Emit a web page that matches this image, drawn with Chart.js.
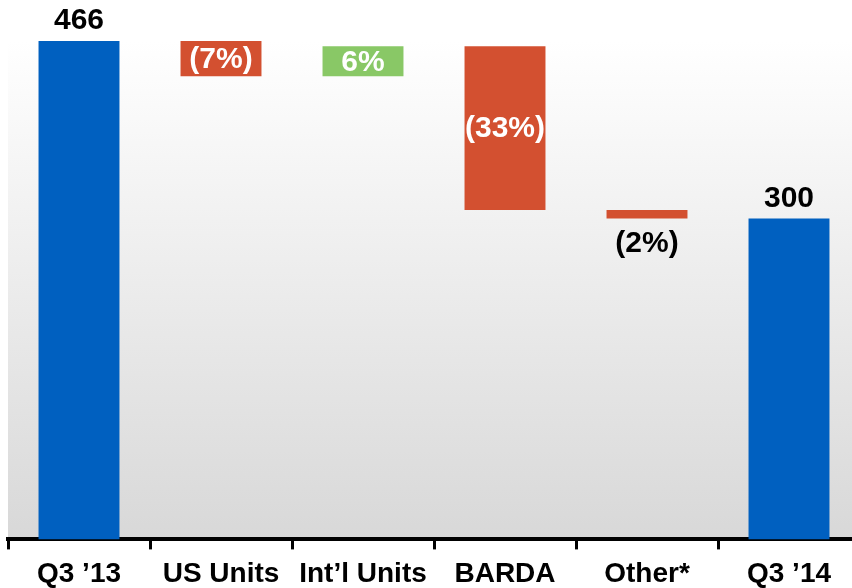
<!DOCTYPE html>
<html>
<head>
<meta charset="utf-8">
<script src="https://cdn.jsdelivr.net/npm/chart.js@4.4.0/dist/chart.umd.min.js"></script>
<style>
  html, body { margin: 0; padding: 0; background: #fff; overflow: hidden; }
  #wrap { width: 860px; height: 588px; }
</style>
</head>
<body>
<div id="wrap"><canvas id="chart"></canvas></div>
<script>
const categories = ['Q3 \u201913', 'US Units', 'Int\u2019l Units', 'BARDA', 'Other*', 'Q3 \u201914'];
// floating bar ranges (units)
const barLow = [0, 433, 433, 308, 300, 0];
const barHigh = [466, 466, 461, 461, 308, 300];
const barLabels = ['466', '(7%)', '6%', '(33%)', '(2%)', '300'];
// where each label sits: above the bar, inside it, or below it
const labelPlace = ['above', 'inside', 'inside', 'inside', 'below', 'above'];

const BLUE = '#0060c0';
const RED = '#d35030';
const GREEN = '#89c866';
const barColors = [BLUE, RED, GREEN, RED, RED, BLUE];

const FONT = "'Liberation Sans', Arial, sans-serif";

const panelBackground = {
  id: 'panelBackground',
  beforeDraw(chart) {
    const { ctx, chartArea } = chart;
    const g = ctx.createLinearGradient(0, chartArea.top, 0, chartArea.bottom);
    g.addColorStop(0, '#ffffff');
    g.addColorStop(1, '#d8d8d8');
    ctx.save();
    ctx.fillStyle = g;
    ctx.fillRect(chartArea.left, chartArea.top, chartArea.right - chartArea.left, chartArea.bottom - chartArea.top);
    ctx.restore();
  },
};

const barText = {
  id: 'barText',
  afterDatasetsDraw(chart) {
    const { ctx } = chart;
    const meta = chart.getDatasetMeta(0);
    ctx.save();
    ctx.font = `bold 30px ${FONT}`;
    ctx.textAlign = 'center';
    meta.data.forEach((bar, i) => {
      const top = Math.min(bar.y, bar.base);
      const bottom = Math.max(bar.y, bar.base);
      let y;
      if (labelPlace[i] === 'above') {
        ctx.fillStyle = '#000';
        ctx.textBaseline = 'bottom';
        y = top - 5;
      } else if (labelPlace[i] === 'below') {
        ctx.fillStyle = '#000';
        ctx.textBaseline = 'top';
        y = bottom + 10;
      } else {
        ctx.fillStyle = '#fff';
        ctx.textBaseline = 'middle';
        y = (top + bottom) / 2 + 1;
      }
      ctx.fillText(barLabels[i], bar.x, y);
    });
    ctx.restore();
  },
};

new Chart(document.getElementById('chart'), {
  type: 'bar',
  data: {
    labels: categories,
    datasets: [{
      data: barLow.map((lo, i) => [lo, barHigh[i]]),
      backgroundColor: barColors,
      borderWidth: 0,
      categoryPercentage: 1,
      barPercentage: 0.57,
    }],
  },
  options: {
    responsive: true,
    maintainAspectRatio: false,
    animation: false,
    layout: { padding: { top: 41, left: 8, right: 0, bottom: -11 } },
    plugins: {
      legend: { display: false },
      tooltip: { enabled: false },
    },
    scales: {
      x: {
        grid: {
          offset: true,
          drawOnChartArea: false,
          drawTicks: true,
          tickLength: 10,
          tickWidth: 3,
          tickColor: '#000',
        },
        border: { display: true, color: '#000', width: 4 },
        ticks: {
          color: '#000',
          padding: 8,
          maxRotation: 0,
          autoSkip: false,
          font: { family: FONT, size: 28, weight: 'bold', lineHeight: 1.2 },
        },
      },
      y: {
        display: false,
        min: 0,
        max: 466,
      },
    },
  },
  plugins: [panelBackground, barText],
});
</script>
</body>
</html>
